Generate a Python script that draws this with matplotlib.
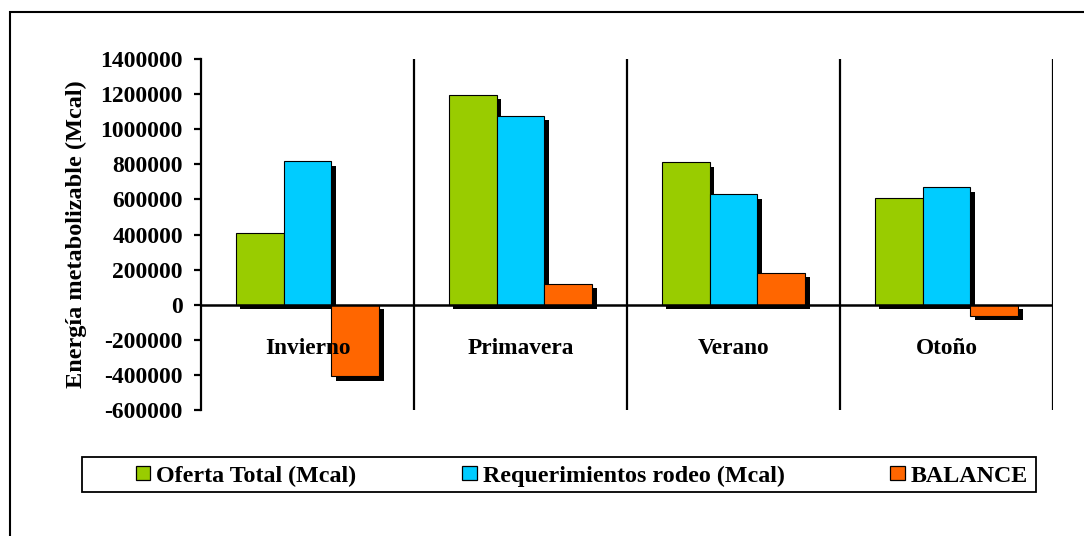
import matplotlib
matplotlib.use("Agg")
import matplotlib.pyplot as plt
import matplotlib.patheffects as pe
from matplotlib.patches import Rectangle, Patch
import numpy as np

# Seasonal energy balance data (Mcal)
estaciones = ["Invierno", "Primavera", "Verano", "Otoño"]
oferta_total = [410000, 1195000, 812000, 608000]
requerimientos = [818000, 1075000, 630000, 670000]
balance = [-408000, 120000, 182000, -62000]
series_labels = ["Oferta Total (Mcal)", "Requerimientos rodeo (Mcal)", "BALANCE"]
series_colors = ["#99CC00", "#00CCFF", "#FF6600"]
yticks = list(range(-600000, 1400001, 200000))

plt.rcParams["font.family"] = ["Liberation Serif", "DejaVu Serif"]
plt.rcParams["font.weight"] = "bold"

W, H = 1084, 536
fig = plt.figure(figsize=(W / 100, H / 100), dpi=100)

def px_box(x0, y0, x1, y1):
    return [x0 / W, 1 - y1 / H, (x1 - x0) / W, (y1 - y0) / H]

# outer chart frame
fig.patches.append(Rectangle((10 / W, 1 - 700 / H), 1200 / W, 688 / H,
                             transform=fig.transFigure, fill=False,
                             edgecolor="black", linewidth=1.5))

ax = fig.add_axes(px_box(201, 59, 1053, 410))
ax.set_xlim(0, len(estaciones))
ax.set_ylim(-600000, 1400000)

x = np.arange(len(estaciones)) + 0.5
bw = 0.224
shadow = [pe.SimplePatchShadow(offset=(3.2, -3.2), shadow_rgbFace="black", alpha=1.0),
          pe.Normal()]
for i, (vals, col) in enumerate(zip([oferta_total, requerimientos, balance], series_colors)):
    bars = ax.bar(x + (i - 1) * bw, vals, width=bw, color=col,
                  edgecolor="black", linewidth=0.8, zorder=3)
    for b in bars:
        b.set_path_effects(shadow)

# category labels below the zero line
for xi, name in zip(x, estaciones):
    ax.text(xi, -250000, name, ha="center", va="center", fontsize=16.8,
            fontweight="bold", zorder=5)

# category separators and zero line
for xv in range(1, len(estaciones) + 1):
    ax.axvline(xv, color="black", linewidth=1.6, zorder=2)
ax.axhline(0, color="black", linewidth=1.8, zorder=4)

for s in ["top", "right", "bottom"]:
    ax.spines[s].set_visible(False)
ax.spines["left"].set_linewidth(1.6)
ax.set_xticks([])
ax.set_yticks(yticks)
ax.set_yticklabels([str(v) for v in yticks])
ax.tick_params(axis="y", direction="out", length=5, width=1.6, labelsize=17, pad=8)
for lbl in ax.get_yticklabels():
    lbl.set_fontweight("bold")
ax.set_ylabel("Energía metabolizable (Mcal)", fontsize=17.5, fontweight="bold", labelpad=10)

# legend frame and entries
fig.patches.append(Rectangle((82 / W, 1 - 492 / H), (1036 - 82) / W, 35 / H,
                             transform=fig.transFigure, fill=False,
                             edgecolor="black", linewidth=1.3))
handles = [Patch(facecolor=c, edgecolor="black", linewidth=0.9) for c in series_colors]
leg = fig.legend(handles, series_labels, loc="center left", ncol=3,
                 bbox_to_anchor=(136 / W, 1 - 476 / H), frameon=False,
                 handlelength=0.6, handleheight=0.55, handletextpad=0.25,
                 borderaxespad=0, borderpad=0, columnspacing=4.4,
                 prop={"size": 17.3, "weight": "bold"})

fig.savefig("out.png", dpi=100)
